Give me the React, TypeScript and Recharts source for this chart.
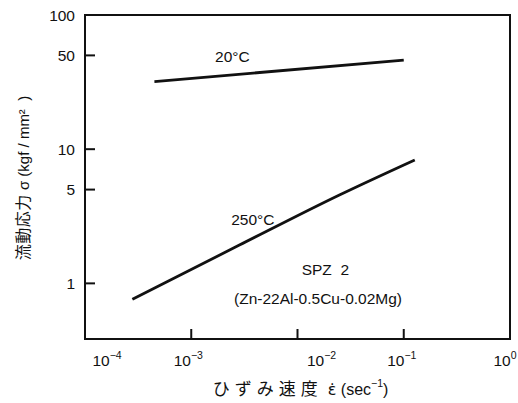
import { LineChart, Line, XAxis, YAxis, ReferenceDot, ReferenceArea } from "recharts";

// strain rate (1/sec) and flow stress (kgf/mm2)
const strain20 = [4.5e-4, 0.1];
const stress20 = [31.9, 46.1];
const strain250 = [2.79e-4, 2.84e-3, 0.0248, 0.127];
const stress250 = [0.76, 1.93, 4.56, 8.32];

const xTicks = [1e-4, 1e-3, 1e-2, 1e-1, 1];
const xExponents = ["−4", "−3", "−2", "−1", "0"];
const yTicks = [1, 5, 10, 50, 100];
const yTickLabels = ["1", "5", "10", "50", "100"];

const notes = [
  { x: 2.44e-3, y: 48.9, text: "20°C" },
  { x: 3.8e-3, y: 2.98, text: "250°C" },
  { x: 0.0183, y: 1.26, text: "SPZ\u00a0\u00a02" },
  { x: 0.0156, y: 0.776, text: "(Zn-22Al-0.5Cu-0.02Mg)" },
];

const line20 = strain20.map((x, i) => ({ x, y: stress20[i] }));
const line250 = strain250.map((x, i) => ({ x, y: stress250[i] }));

const ink = "#111";
const font = "'Liberation Sans', Arial, 'Noto Sans CJK JP', sans-serif";
const labelShift = [22, -3, 24, -2, -5];

const XTick = ({ x, y, payload, index }: any) => {
  const i = xTicks.indexOf(payload.value);
  const edge = i === 0 || i === xTicks.length - 1;
  return (
    <g>
      {!edge && <line x1={x} y1={y} x2={x} y2={y - 10} stroke={ink} strokeWidth={2} />}
      <text
        x={x + labelShift[i >= 0 ? i : index]}
        y={y + 27}
        textAnchor="middle"
        fontSize={15.5}
        fill={ink}
        fontFamily={font}
      >
        10
        <tspan dy={-7} fontSize={10.5}>
          {xExponents[i]}
        </tspan>
      </text>
    </g>
  );
};

const YTick = ({ x, y, payload }: any) => {
  const i = yTicks.indexOf(payload.value);
  return (
    <g>
      {payload.value !== 100 && <line x1={x} y1={y} x2={x + 10} y2={y} stroke={ink} strokeWidth={2} />}
      <text x={x - 10} y={y} textAnchor="end" dominantBaseline="central" fontSize={15.5} fill={ink} fontFamily={font}>
        {yTickLabels[i]}
      </text>
    </g>
  );
};

const YLabel = ({ viewBox }: any) => {
  const cx = viewBox.x - 2;
  const cy = viewBox.y + viewBox.height / 2 + 1;
  return (
    <text
      x={cx}
      y={cy}
      transform={`rotate(-90 ${cx} ${cy})`}
      textAnchor="middle"
      dominantBaseline="central"
      fontSize={15}
      fill={ink}
      fontFamily={font}
    >
      <tspan fontSize={16} letterSpacing={0.5}>流動応力</tspan> σ (kgf / mm²{"\u00a0\u00a0"})
    </text>
  );
};

const XLabel = ({ viewBox }: any) => (
  <text
    x={viewBox.x + viewBox.width / 2 + 3}
    y={viewBox.y + 50}
    textAnchor="middle"
    dominantBaseline="central"
    fontSize={16}
    fill={ink}
    fontFamily={font}
  >
    <tspan fontSize={17} letterSpacing={5}>ひずみ速度</tspan>
    <tspan fontFamily="'DejaVu Sans', sans-serif">{"\u00a0ε̇"}</tspan> (sec
    <tspan dy={-6} fontSize={10.5}>
      −1
    </tspan>
    <tspan dy={6}>)</tspan>
  </text>
);

export default function App() {
  return (
    <div style={{ position: "absolute", left: 0, top: 0, background: "#fff" }}>
      <LineChart width={518} height={403} margin={{ top: 15, right: 8, bottom: 34, left: 25 }}>
        <XAxis
          dataKey="x"
          type="number"
          scale="log"
          domain={[1e-4, 1]}
          ticks={xTicks}
          allowDataOverflow
          height={30}
          tickSize={0}
          tickMargin={0}
          tickLine={false}
          axisLine={{ stroke: ink, strokeWidth: 2 }}
          tick={<XTick />}
          label={XLabel}
        />
        <YAxis
          type="number"
          scale="log"
          domain={[0.385, 100]}
          ticks={yTicks}
          allowDataOverflow
          width={60}
          tickSize={0}
          tickMargin={0}
          tickLine={false}
          axisLine={{ stroke: ink, strokeWidth: 2 }}
          tick={<YTick />}
          label={YLabel}
        />
        <ReferenceArea
          x1={1e-4}
          x2={1}
          y1={0.385}
          y2={100}
          fill="none"
          stroke={ink}
          strokeWidth={2}
          ifOverflow="visible"
        />
        <Line
          data={line20}
          dataKey="y"
          type="linear"
          stroke={ink}
          strokeWidth={2.8}
          dot={false}
          isAnimationActive={false}
        />
        <Line
          data={line250}
          dataKey="y"
          type="monotone"
          stroke={ink}
          strokeWidth={2.8}
          dot={false}
          isAnimationActive={false}
        />
        {notes.map((n) => (
          <ReferenceDot
            key={n.text}
            x={n.x}
            y={n.y}
            r={1}
            fill="none"
            stroke="none"
            label={{ value: n.text, position: "center", fontSize: 15.5, fill: ink, fontFamily: font }}
          />
        ))}
      </LineChart>
    </div>
  );
}
